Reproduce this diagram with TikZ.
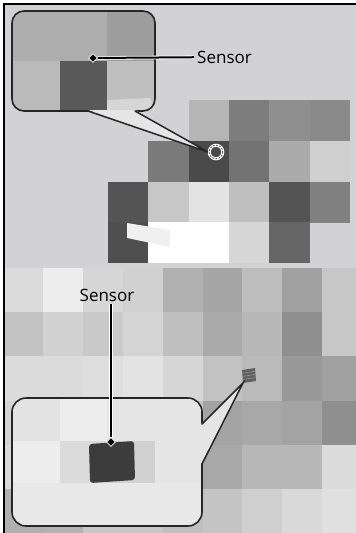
\documentclass[tikz,border=0pt]{standalone}
\usepackage{fontspec}
\setmainfont{Open Sans}
\usetikzlibrary{positioning,shapes.geometric}
\definecolor{bgtop}{HTML}{D2D2D4}
\definecolor{sensdark}{HTML}{3C3C3C}
\tikzset{
  frameline/.style={line width=1.3pt, draw=black},
  bubble/.style={line width=1.6pt, draw=black!85, rounded corners=#1},
  tailfill/.style={fill=black!10},
  tailedge/.style={line width=1.5pt, draw=black!85, line cap=round},
  marker/.style={diamond, fill=black, draw=white, line width=0.8pt, inner sep=0pt, minimum size=9pt},
  lead/.style={line width=2pt, draw=black, preaction={draw=white, line width=3.6pt}},
  tag/.style={font=\fontsize{17}{20}\selectfont, inner sep=3pt},
}

\begin{document}
\begin{tikzpicture}[x=1pt, y=-1pt]
    \useasboundingbox (0,0) rectangle (356,533);
    % Panneau haut : fond + pixels
    \fill[bgtop] (4,4) rectangle (356,268);
    \foreach \c/\r/\k in {2/0/29, 3/0/51, 4/0/44, 5/0/46,
                          1/1/52, 2/1/71, 3/1/55, 4/1/33, 5/1/19,
                          0/2/67, 1/2/22, 2/2/11, 3/2/25, 4/2/67, 5/2/50,
                          0/3/69, 1/3/0, 2/3/0, 3/3/16, 4/3/60}
      \fill[black!\k] ({108+40.33*\c},{100+40.75*\r}) rectangle +(40.6,41);
    \fill[black!6] (127,223) -- (170,230) -- (170,247) -- (127,238) -- cycle;
    % Capteur (anneau)
    \draw[white, line width=3pt] (216,152) circle (6.8);
    \draw[black!70, line width=0.9pt, dash pattern=on 1.6pt off 1.6pt] (216,152) circle (6.8);
    % Bulle haute
    \begin{scope}
      \clip[rounded corners=12] (12,11) rectangle (155,111);
      \foreach \row [count=\r from 0] in {{32,32,38},{27,65,25}}
        \foreach \k [count=\c from 0] in \row
          \fill[black!\k] ({12+47.7*\c},{11+50*\r}) rectangle +(48,50.3);
      \fill[black!16] (107,100) -- (150,98) -- (155,111) -- (107,111) -- cycle;
    \end{scope}
    \draw[bubble=12] (12,11) rectangle (155,111);
    \fill[tailfill] (88,110) -- (135,110) -- (208,152) -- cycle;
    \draw[tailedge] (88,111) -- (208,152) -- (135,111);
    \node[marker] (markA) at (93,58) {};
    \node[tag, anchor=west] (labA) at (194,57) {Sensor};
    \draw[lead] (markA) -- (labA);
    % Panneau bas : pixels
    \foreach \row [count=\r from 0] in {{14,7,16,18,31,35,26,37,22},
                                        {24,18,21,17,25,33,28,44,22},
                                        {14,14,13,11,16,24,27,40,37},
                                        {17,17,17,17,24,36,34,36,44},
                                        {15,15,15,15,25,34,28,28,14},
                                        {31,30,22,22,25,23,19,15,12}}
      \foreach \k [count=\c from 0] in \row
        \fill[black!\k] ({3+39.9*\c},{268+44.2*\r}) rectangle +(40.2,44.5);
    % Capteur (petit carré)
    \fill[black!62] (242,370) -- (255,368) -- (256,381) -- (243,383) -- cycle;
    \foreach \i in {1,2,3}
      \draw[black!40, line width=0.5pt] (242.3,{370+3.2*\i}) -- (255.5,{368+3.2*\i});
    % Bulle basse
    \begin{scope}
      \clip[rounded corners=14] (12,398) rectangle (202,526);
      \foreach \row [count=\r from 0] in {{11,7,10,10},{7,14,18,10},{9,9,9,9}}
        \foreach \k [count=\c from 0] in \row
          \fill[black!\k] ({12+47.5*\c},{398+42.7*\r}) rectangle +(47.8,43);
    \end{scope}
    \draw[bubble=14] (12,398) rectangle (202,526);
    \fill[tailfill] (201,424) -- (243,383) -- (201,464) -- cycle;
    \draw[tailedge] (202,424) -- (243,383) -- (202,464);
    \fill[sensdark, rounded corners=3] (89,444) -- (134,441) -- (135,480) -- (90,483) -- cycle;
    \node[marker] (markB) at (111,442) {};
    \node[tag] (labB) at (107,295) {Sensor};
    \draw[lead] (markB) -- (markB |- labB.south);
    % Cadre
    \draw[frameline] (4,533) -- (4,4) -- (356,4);
\end{tikzpicture}
\end{document}
